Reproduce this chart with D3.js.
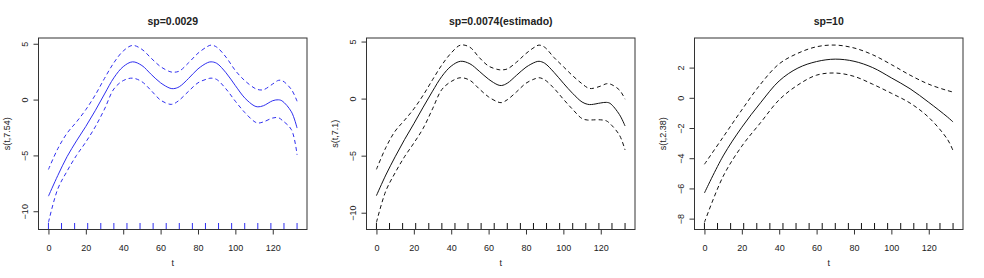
<!DOCTYPE html>
<html>
<head>
<meta charset="utf-8">
<script src="https://cdn.jsdelivr.net/npm/d3@7.9.0/dist/d3.min.js"></script>
<style>
  body { margin: 0; background: #fff; }
  svg text { font-family: "Liberation Sans", Arial, sans-serif; fill: #222; }
</style>
</head>
<body>
<svg id="chart" width="984" height="278"></svg>
<script>
// ---- data ----
const titles = ["sp=0.0029", "sp=0.0074(estimado)", "sp=10"];
const yLabels = ["s(t,7.54)", "s(t,7.1)", "s(t,2.38)"];
const xTicks = [0, 20, 40, 60, 80, 100, 120];
const yTicks1 = [-10, -5, 0, 5];
const yTicks2 = [-10, -5, 0, 5];
const yTicks3 = [-8, -6, -4, -2, 0, 2];
const rugT = [0, 7, 14, 21, 28, 35, 42, 49, 56, 63, 70, 77, 84, 91, 98, 105, 112, 119, 126, 133];

// panel 1 (sp=0.0029)
const t1  = [0, 5, 10, 15, 20, 25, 30, 35, 40, 45, 50, 55, 60, 65, 67, 70, 75, 80, 85, 87, 90, 95, 100, 105, 110, 112, 115, 120, 123, 125, 130, 133];
const fit1 = [-8.65, -6.8, -5.1, -3.7, -2.4, -1.0, 0.5, 1.95, 2.95, 3.38, 3.05, 2.25, 1.5, 1.02, 0.98, 1.15, 1.9, 2.75, 3.3, 3.38, 3.25, 2.4, 1.25, 0.15, -0.55, -0.65, -0.55, -0.1, -0.02, -0.12, -1.1, -2.55];
const up1  = [-6.26, -4.4, -3.0, -2.0, -0.9, 0.4, 1.9, 3.3, 4.35, 4.85, 4.5, 3.7, 2.95, 2.5, 2.45, 2.55, 3.3, 4.15, 4.75, 4.88, 4.7, 3.8, 2.6, 1.7, 1.05, 0.9, 0.88, 1.4, 1.72, 1.7, 0.9, -0.15];
const lo1  = [-11.0, -8.0, -6.4, -5.0, -3.8, -2.45, -0.85, 0.95, 1.7, 1.92, 1.6, 0.8, -0.05, -0.42, -0.38, -0.05, 0.75, 1.5, 1.85, 1.92, 1.8, 0.95, -0.15, -1.15, -1.95, -2.1, -2.0, -1.65, -1.62, -1.85, -2.7, -4.95];

// panel 2 (sp=0.0074, estimado)
const t2  = [0, 5, 10, 15, 20, 25, 30, 35, 40, 45, 50, 55, 60, 65, 67, 70, 75, 80, 85, 87, 90, 95, 100, 105, 110, 113, 115, 120, 123, 125, 130, 133];
const fit2 = [-8.5, -6.7, -5.1, -3.6, -2.2, -0.75, 0.65, 1.95, 2.85, 3.27, 3.05, 2.4, 1.7, 1.2, 1.15, 1.35, 2.05, 2.75, 3.2, 3.27, 3.1, 2.3, 1.35, 0.45, -0.3, -0.5, -0.52, -0.38, -0.33, -0.42, -1.4, -2.4];
const up2  = [-6.2, -4.3, -2.85, -1.9, -0.9, 0.3, 1.65, 2.95, 4.0, 4.69, 4.5, 3.6, 2.85, 2.55, 2.52, 2.6, 3.2, 3.95, 4.55, 4.69, 4.5, 3.6, 2.8, 2.0, 1.3, 0.95, 0.88, 1.1, 1.3, 1.28, 0.75, -0.05];
const lo2  = [-10.85, -8.1, -6.5, -5.1, -3.9, -2.6, -0.9, 0.8, 1.5, 1.83, 1.6, 0.85, 0.15, -0.3, -0.35, -0.1, 0.6, 1.35, 1.75, 1.83, 1.65, 0.9, -0.05, -0.95, -1.75, -1.88, -1.87, -1.86, -1.95, -2.2, -3.2, -4.5];

// panel 3 (sp=10)
const t3  = [0, 10, 20, 30, 40, 50, 60, 70, 80, 90, 100, 110, 120, 130, 133];
const fit3 = [-6.3, -3.85, -1.95, -0.33, 1.12, 1.97, 2.4, 2.56, 2.42, 2.0, 1.32, 0.6, -0.3, -1.27, -1.6];
const up3  = [-4.4, -2.6, -0.8, 0.9, 2.25, 2.95, 3.38, 3.49, 3.3, 2.85, 2.2, 1.5, 0.9, 0.48, 0.38];
const lo3  = [-8.25, -5.2, -3.2, -1.65, -0.13, 0.85, 1.5, 1.64, 1.42, 0.9, 0.3, -0.35, -1.3, -2.75, -3.5];

const panels = [
  { t: t1, fit: fit1, up: up1, lo: lo1, yTicks: yTicks1, color: "#2f2fef" },
  { t: t2, fit: fit2, up: up2, lo: lo2, yTicks: yTicks2, color: "#111" },
  { t: t3, fit: fit3, up: up3, lo: lo3, yTicks: yTicks3, color: "#111" }
];

// ---- layout (R par(mfrow=c(1,3)) style) ----
const panelW = 328;
const box = { left: 38.5, right: 21, top: 38, bottom: 229.5 };

const svg = d3.select("#chart");

panels.forEach((p, i) => {
  const g = svg.append("g").attr("transform", `translate(${i * panelW},0)`);
  const x0 = box.left, x1 = panelW - box.right;

  // R pads the data range by 4% on each side
  const tExt = d3.extent(p.t);
  const tPad = (tExt[1] - tExt[0]) * 0.04;
  const x = d3.scaleLinear().domain([tExt[0] - tPad, tExt[1] + tPad]).range([x0, x1]);

  const yExt = [d3.min(p.lo), d3.max(p.up)];
  const yPad = (yExt[1] - yExt[0]) * 0.04;
  const y = d3.scaleLinear().domain([yExt[0] - yPad, yExt[1] + yPad]).range([box.bottom, box.top]);

  const line = (vals) => d3.line()
    .x((d, k) => x(p.t[k]))
    .y(d => y(d))
    .curve(d3.curveCatmullRom.alpha(0.5))(vals);

  // clip to plot box
  g.append("clipPath").attr("id", "clip" + i)
    .append("rect")
    .attr("x", x0).attr("y", box.top)
    .attr("width", x1 - x0).attr("height", box.bottom - box.top);

  const plot = g.append("g").attr("clip-path", `url(#clip${i})`);

  plot.append("path")
    .attr("d", line(p.fit))
    .attr("fill", "none")
    .attr("stroke", p.color)
    .attr("stroke-width", 1);

  [p.up, p.lo].forEach(vals => {
    plot.append("path")
      .attr("d", line(vals))
      .attr("fill", "none")
      .attr("stroke", p.color)
      .attr("stroke-width", 1)
      .attr("stroke-dasharray", "4,3");
  });

  // rug
  plot.selectAll("line.rug")
    .data(rugT)
    .enter()
    .append("line")
    .attr("class", "rug")
    .attr("x1", d => x(d)).attr("x2", d => x(d))
    .attr("y1", box.bottom).attr("y2", box.bottom - 6.5)
    .attr("stroke", p.color)
    .attr("stroke-width", 1);

  // x axis
  const xAxis = g.append("g")
    .attr("transform", `translate(0,${box.bottom})`)
    .call(d3.axisBottom(x).tickValues(xTicks).tickSize(5).tickSizeOuter(0));
  xAxis.select(".domain").remove();
  xAxis.selectAll("line").attr("stroke", "#333");
  xAxis.selectAll("text")
    .attr("y", 21.5).attr("dy", 0)
    .attr("font-size", 9)
    .attr("fill", "#222")
    .style("font-family", "'Liberation Sans', Arial, sans-serif");

  // y axis, labels rotated like R's las=0
  const yAxis = g.append("g")
    .attr("transform", `translate(${x0},0)`)
    .call(d3.axisLeft(y).tickValues(p.yTicks).tickSize(5).tickSizeOuter(0));
  yAxis.select(".domain").remove();
  yAxis.selectAll("line").attr("stroke", "#333");
  yAxis.selectAll("text")
    .attr("x", null).attr("dy", 0)
    .attr("text-anchor", "middle")
    .attr("transform", "translate(-11,0) rotate(-90)")
    .attr("font-size", 9)
    .attr("fill", "#222")
    .style("font-family", "'Liberation Sans', Arial, sans-serif");

  // box
  g.append("rect")
    .attr("x", x0).attr("y", box.top)
    .attr("width", x1 - x0).attr("height", box.bottom - box.top)
    .attr("fill", "none")
    .attr("stroke", "#333")
    .attr("stroke-width", 1);

  // title
  g.append("text")
    .attr("x", (x0 + x1) / 2).attr("y", 24.5)
    .attr("text-anchor", "middle")
    .attr("font-size", 10.5)
    .attr("font-weight", "bold")
    .text(titles[i]);

  // axis titles
  g.append("text")
    .attr("x", (x0 + x1) / 2).attr("y", 266)
    .attr("text-anchor", "middle")
    .attr("font-size", 9)
    .text("t");

  g.append("text")
    .attr("transform", `translate(10,${(box.top + box.bottom) / 2}) rotate(-90)`)
    .attr("text-anchor", "middle")
    .attr("font-size", 9)
    .text(yLabels[i]);
});
</script>
</body>
</html>
